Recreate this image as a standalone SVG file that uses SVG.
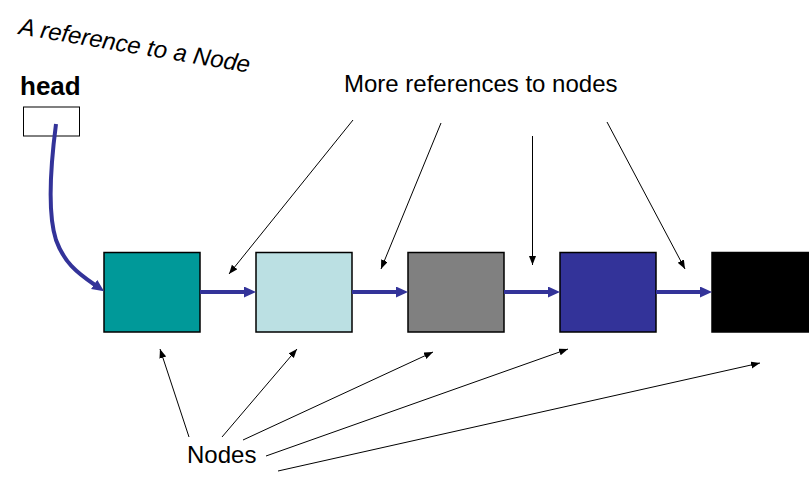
<svg xmlns="http://www.w3.org/2000/svg" width="809" height="484" viewBox="0 0 809 484">
<style>
text{font-family:"Liberation Sans",Arial,sans-serif;fill:#000}
.node{stroke:#000;stroke-width:1.5}
.link{stroke:#333399;stroke-width:4;fill:none}
.ref{stroke:#000;stroke-width:1;fill:none}
</style>
<defs>
<marker id="blue" markerUnits="userSpaceOnUse" markerWidth="13" markerHeight="12" refX="1" refY="5.5" orient="auto"><path d="M0,0 L12,5.5 L0,11 z" fill="#333399"/></marker>
<marker id="blk" markerUnits="userSpaceOnUse" markerWidth="10" markerHeight="8" refX="9" refY="3.5" orient="auto"><path d="M0,0 L9,3.5 L0,7 z" fill="#000"/></marker>
</defs>
<rect width="809" height="484" fill="#fff"/>
<text x="18" y="34" font-size="24" font-style="italic" transform="rotate(9.5 18 34)">A reference to a Node</text>
<g id="head">
<text x="20" y="95" font-size="26" font-weight="bold">head</text>
<rect x="23.5" y="107" width="56" height="29" fill="#fff" stroke="#000" stroke-width="1"/>
</g>
<text x="344" y="92" font-size="24">More references to nodes</text>
<text x="187" y="463" font-size="24">Nodes</text>
<g id="n1"><rect class="node" x="104" y="252.5" width="96" height="79.5" fill="#009999"/></g>
<g id="n2"><rect class="node" x="256" y="252.5" width="96" height="79.5" fill="#BBE0E3"/></g>
<g id="n3"><rect class="node" x="408" y="252.5" width="96" height="79.5" fill="#808080"/></g>
<g id="n4"><rect class="node" x="560" y="252.5" width="96" height="79.5" fill="#333399"/></g>
<g id="n5"><rect class="node" x="712" y="252.5" width="98" height="79.5" fill="#000"/></g>
<g id="connectors">
<path class="link" d="M56,124 C50,170 48,215 56,240 C64,262 76,272 95,285" marker-end="url(#blue)"/>
<line class="link" x1="200" y1="292" x2="245" y2="292" marker-end="url(#blue)"/>
<line class="link" x1="352" y1="292" x2="397" y2="292" marker-end="url(#blue)"/>
<line class="link" x1="504" y1="292" x2="549" y2="292" marker-end="url(#blue)"/>
<line class="link" x1="656" y1="292" x2="701" y2="292" marker-end="url(#blue)"/>
<line class="ref" x1="353" y1="120" x2="229" y2="274" marker-end="url(#blk)"/>
<line class="ref" x1="441" y1="123" x2="381" y2="269" marker-end="url(#blk)"/>
<line class="ref" x1="532.5" y1="136" x2="532.5" y2="265" marker-end="url(#blk)"/>
<line class="ref" x1="607" y1="122" x2="685" y2="269" marker-end="url(#blk)"/>
<line class="ref" x1="189" y1="437" x2="160" y2="349" marker-end="url(#blk)"/>
<line class="ref" x1="222" y1="437" x2="297" y2="349" marker-end="url(#blk)"/>
<line class="ref" x1="243" y1="440" x2="433" y2="352" marker-end="url(#blk)"/>
<line class="ref" x1="266" y1="456" x2="568" y2="349" marker-end="url(#blk)"/>
<line class="ref" x1="278" y1="471" x2="760" y2="363" marker-end="url(#blk)"/>
</g>
</svg>
